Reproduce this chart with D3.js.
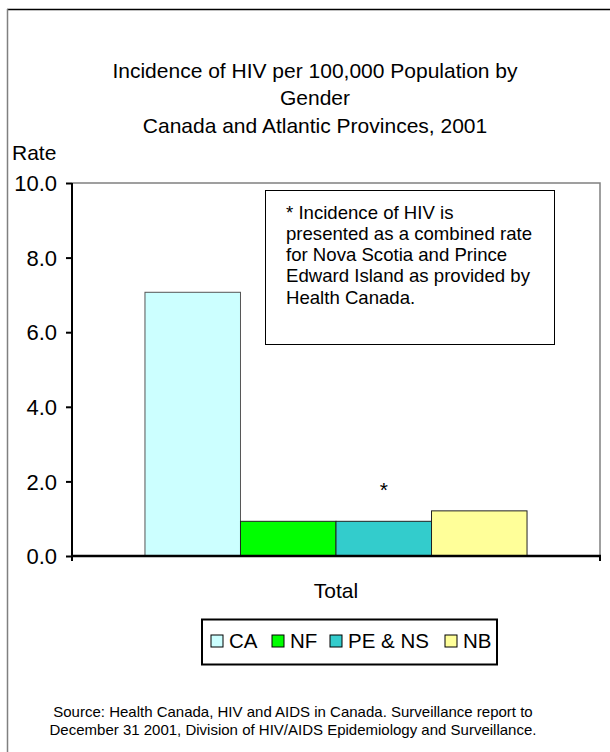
<!DOCTYPE html>
<html><head><meta charset="utf-8">
<script src="https://cdn.jsdelivr.net/npm/d3@7"></script>
<style>body{margin:0;background:#fff}svg{display:block}text{font-family:Arial,"Liberation Sans",sans-serif;fill:#000}</style>
</head><body>
<script>
const categories = ["Total"];
const seriesNames = ["CA", "NF", "PE & NS", "NB"];
const seriesValues = [7.07, 0.93, 0.93, 1.21];
const seriesColors = ["#CCFFFF", "#00FF00", "#33CCCC", "#FFFF99"];
const yTicks = [0, 2, 4, 6, 8, 10];
const titleLines = ["Incidence of HIV per 100,000 Population by", "Gender", "Canada and Atlantic Provinces, 2001"];
const noteLines = ["* Incidence of HIV is", "presented as a combined rate", "for Nova Scotia and Prince", "Edward Island as provided by", "Health Canada."];
const sourceLines = ["Source: Health Canada, HIV and AIDS in Canada. Surveillance report to", "December 31 2001, Division of HIV/AIDS Epidemiology and Surveillance."];

const W = 610, H = 752;
const svg = d3.select("body").append("svg").attr("width", W).attr("height", H);

// outer frame (top and left)
svg.append("line").attr("x1", 7).attr("x2", W).attr("y1", 9.5).attr("y2", 9.5).attr("stroke", "#000").attr("stroke-width", 1.5);
svg.append("line").attr("x1", 7.5).attr("x2", 7.5).attr("y1", 9).attr("y2", H).attr("stroke", "#808080").attr("stroke-width", 1.5);

const plot = {left: 72, right: 600, top: 183, bottom: 556};
const y = d3.scaleLinear().domain([0, 10]).range([plot.bottom, plot.top]);
const x0 = d3.scaleBand().domain(categories).range([plot.left, plot.right]).paddingInner(0).paddingOuter(0.191);
const x1 = d3.scaleBand().domain(seriesNames).range([0, x0.bandwidth()]);

// plot area border (top and right, grey)
svg.append("path").attr("d", `M${plot.left},${plot.top}H${plot.right}V${plot.bottom}`).attr("fill", "none").attr("stroke", "#808080").attr("stroke-width", 1.5);

// title
svg.append("g").selectAll("text").data(titleLines).join("text")
  .attr("x", 315).attr("y", (d, i) => 77.5 + i * 27.5).attr("text-anchor", "middle").attr("font-size", 21).text(d => d);

// bars
const g = svg.append("g").attr("transform", `translate(${x0("Total")},0)`);
g.selectAll("rect").data(seriesValues).join("rect")
  .attr("x", (d, i) => x1(seriesNames[i]))
  .attr("y", d => y(d))
  .attr("width", x1.bandwidth())
  .attr("height", d => y(0) - y(d))
  .attr("fill", (d, i) => seriesColors[i])
  .attr("stroke", (d, i) => i === 0 ? "#555" : "#222")
  .attr("stroke-width", 1);

// asterisk above PE & NS
g.append("text").attr("x", x1("PE & NS") + x1.bandwidth() / 2).attr("y", y(seriesValues[2]) - 24)
  .attr("text-anchor", "middle").attr("font-size", 21).text("*");

// y axis
const yAxis = svg.append("g").attr("transform", `translate(${plot.left},0)`)
  .call(d3.axisLeft(y).tickValues(yTicks).tickFormat(d3.format(".1f")).tickSize(6).tickPadding(9));
yAxis.select(".domain").attr("stroke", "#000").attr("stroke-width", 2).attr("d", `M0,${plot.top}V${plot.bottom + 5}`);
yAxis.selectAll(".tick line").attr("stroke", "#000").attr("stroke-width", 2);
yAxis.selectAll(".tick text").attr("font-size", 22).attr("font-family", "Arial, 'Liberation Sans', sans-serif").attr("fill", "#000").attr("dy", "0.35em");

// x axis
const xAxis = svg.append("g").attr("transform", `translate(0,${plot.bottom})`);
xAxis.append("line").attr("x1", plot.left).attr("x2", plot.right + 1).attr("y1", 0).attr("y2", 0).attr("stroke", "#000").attr("stroke-width", 2.5);
xAxis.append("line").attr("x1", plot.right).attr("x2", plot.right).attr("y1", 0).attr("y2", 5).attr("stroke", "#000").attr("stroke-width", 2);
xAxis.selectAll("text.cat").data(categories).join("text").attr("class", "cat")
  .attr("x", d => x0(d) + x0.bandwidth() / 2).attr("y", 42).attr("text-anchor", "middle").attr("font-size", 21).text(d => d);

// Rate label
svg.append("text").attr("x", 12).attr("y", 159.5).attr("font-size", 21).text("Rate");

// note box
svg.append("rect").attr("x", 265.5).attr("y", 190.5).attr("width", 289).attr("height", 154).attr("fill", "#fff").attr("stroke", "#000").attr("stroke-width", 1);
svg.append("g").selectAll("text").data(noteLines).join("text")
  .attr("x", 286).attr("y", (d, i) => 218.5 + i * 21.3).attr("font-size", 18.6).text(d => d);

// legend
svg.append("rect").attr("x", 202).attr("y", 619.5).attr("width", 295).attr("height", 45).attr("fill", "#fff").attr("stroke", "#000").attr("stroke-width", 2);
const legendX = [211, 272, 330, 445];
const lg = svg.append("g").selectAll("g").data(seriesNames).join("g").attr("transform", (d, i) => `translate(${legendX[i]},635)`);
lg.append("rect").attr("width", 12).attr("height", 12).attr("fill", (d, i) => seriesColors[i]).attr("stroke", "#000").attr("stroke-width", 1);
lg.append("text").attr("x", 18).attr("y", 13).attr("font-size", 20.5).text(d => d);

// source
svg.append("g").selectAll("text").data(sourceLines).join("text")
  .attr("x", 293).attr("y", (d, i) => 717 + i * 18).attr("text-anchor", "middle").attr("font-size", 15).text(d => d);
</script>
</body></html>
